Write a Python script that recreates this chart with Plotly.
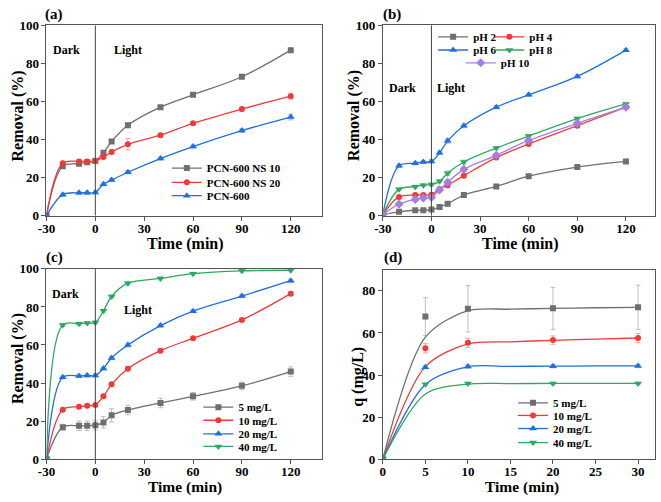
import plotly.graph_objects as go

# ---------------- data ----------------
t_abc = [-30, -20, -10, -5, 0, 5, 10, 20, 40, 60, 90, 120]

a_names = ["PCN-600 NS 10", "PCN-600 NS 20", "PCN-600"]
a_ns10 = [0, 26.0, 27.2, 28.0, 28.7, 33.0, 39.0, 47.5, 57.0, 63.5, 73.0, 87.0]
a_ns10_err = [0, 0.8, 0.8, 0.8, 0.8, 0.8, 0.8, 1.0, 0.8, 0.8, 1.0, 1.0]
a_ns20 = [0, 27.5, 28.5, 28.5, 28.8, 30.8, 33.5, 37.5, 42.3, 48.5, 56.0, 62.8]
a_ns20_err = [0, 1.0, 0.8, 0.8, 0.8, 0.8, 1.0, 3.0, 0.8, 0.8, 1.0, 1.5]
a_pcn = [0, 11.0, 12.0, 12.0, 12.2, 16.5, 18.7, 22.8, 30.0, 36.3, 44.7, 51.8]
a_pcn_err = [0, 0.8, 0.8, 0.8, 0.8, 0.8, 0.8, 0.8, 0.8, 0.8, 1.0, 1.5]

b_names = ["pH 2", "pH 4", "pH 6", "pH 8", "pH 10"]
b_ph2 = [0.5, 2.0, 2.8, 2.8, 3.2, 4.5, 6.2, 10.8, 15.3, 20.7, 25.5, 28.5]
b_ph4 = [0.5, 9.8, 10.8, 10.8, 11.0, 14.0, 16.0, 21.0, 30.5, 37.7, 47.3, 57.0]
b_ph6 = [0.5, 26.2, 27.5, 28.2, 28.5, 33.0, 39.3, 47.2, 57.0, 63.5, 73.2, 87.0]
b_ph8 = [0.5, 13.8, 15.2, 16.0, 16.3, 18.0, 22.3, 28.2, 35.5, 41.8, 51.0, 58.7]
b_ph10 = [0.5, 6.0, 8.5, 9.3, 9.5, 13.5, 17.5, 24.3, 31.7, 39.5, 48.5, 57.0]
b_err = [0.5, 0.8, 0.8, 0.8, 0.8, 0.8, 1.2, 1.0, 0.8, 0.8, 0.8, 0.8]

c_names = ["5 mg/L", "10 mg/L", "20 mg/L", "40 mg/L"]
c_5 = [0, 16.8, 17.5, 17.5, 17.8, 19.3, 23.0, 25.8, 29.5, 33.0, 38.5, 46.0]
c_5_err = [0, 1.5, 2.5, 2.5, 2.5, 3.0, 3.5, 2.5, 2.5, 2.0, 2.0, 2.5]
c_10 = [0, 26.0, 27.5, 28.0, 28.5, 33.0, 39.3, 47.5, 57.0, 63.5, 73.2, 87.0]
c_20 = [0, 43.0, 43.7, 44.0, 44.0, 47.7, 53.2, 60.0, 70.2, 77.8, 85.7, 93.8]
c_40 = [0, 70.5, 71.2, 71.5, 71.8, 78.0, 85.5, 92.5, 95.0, 97.5, 99.0, 99.3]
c_err = [0, 0.8, 0.8, 0.8, 0.8, 0.8, 0.8, 1.0, 0.8, 0.8, 0.8, 0.8]

d_names = ["5 mg/L", "10 mg/L", "20 mg/L", "40 mg/L"]
t_d = [0, 5, 10, 20, 30]
d_5 = [0, 67.8, 71.5, 71.7, 72.2]
d_5_err = [0, 9.0, 11.0, 10.0, 10.5]
d_10 = [0, 52.7, 55.3, 56.6, 57.6]
d_10_err = [0, 2.2, 2.2, 2.0, 2.2]
d_20 = [0, 43.7, 44.0, 44.2, 44.3]
d_20_err = [0, 0.8, 0.8, 0.8, 0.8]
d_40 = [0, 35.6, 36.0, 36.0, 36.0]
d_40_err = [0, 0.5, 0.5, 0.5, 0.5]
# fitted kinetic curves
fit_t = [0, 5, 10, 15, 20, 25, 30]
fit_5 = [0, 58.0, 70.6, 71.3, 71.7, 72.0, 72.2]
fit_10 = [0, 44.0, 54.8, 55.8, 56.5, 57.1, 57.6]
fit_20 = [0, 35.5, 43.9, 44.1, 44.2, 44.3, 44.3]
fit_40 = [0, 31.0, 35.7, 35.9, 36.0, 36.0, 36.0]

tick_abc = [-30, 0, 30, 60, 90, 120]
tick_abc_text = ["-30", "0", "30", "60", "90", "120"]

# ---------------- styles ----------------
W, H = 661, 502
GRAY, RED, BLUE, GREEN, PURPLE = "#6f6f6f", "#f03a3a", "#1f6fe0", "#2fa85f", "#a57fe0"
ERRC = {GRAY: "rgba(150,150,150,0.6)", RED: "rgba(240,58,58,0.45)", BLUE: "rgba(31,111,224,0.45)",
        GREEN: "rgba(47,168,95,0.45)", PURPLE: "rgba(165,127,224,0.45)"}
FONT = "Liberation Serif"

fig = go.Figure()
legend_cfg = {}
leg_count = [0]


def new_legend(text_x, row_y):
    leg_count[0] += 1
    n = leg_count[0]
    key = "legend" if n == 1 else f"legend{n}"
    legend_cfg[key] = dict(x=(text_x - 40) / W, y=1 - row_y / H, xanchor="left", yanchor="middle",
                           bgcolor="rgba(0,0,0,0)", borderwidth=0, itemwidth=30,
                           font=dict(family=FONT, size=11, color="black", weight="bold"))
    return key


def add_series(x, y, err, name, color, symbol, msize, xa, ya, leg):
    fig.add_trace(go.Scatter(
        x=x, y=y, name=name, mode="lines+markers", xaxis=xa, yaxis=ya, legend=leg,
        line=dict(color=color, width=1.3, shape="spline", smoothing=1),
        marker=dict(symbol=symbol, size=msize, color=color),
        error_y=dict(type="data", array=err, color=ERRC[color], thickness=1, width=2.5)))


# (a)
leg_a = [(200, 166), (200, 180.7), (200, 194.5)]
for (y, e, nm, c, s, ms), (lx, ly) in zip(
        [(a_ns10, a_ns10_err, a_names[0], GRAY, "square", 6),
         (a_ns20, a_ns20_err, a_names[1], RED, "circle", 6),
         (a_pcn, a_pcn_err, a_names[2], BLUE, "triangle-up", 7)], leg_a):
    add_series(t_abc, y, e, nm, c, s, ms, "x", "y", new_legend(lx, ly))

# (b)
leg_b = [(470, 30.7), (527, 30.7), (470, 44.3), (527, 44.3), (498, 57.5)]
for (y, nm, c, s, ms), (lx, ly) in zip(
        [(b_ph2, b_names[0], GRAY, "square", 6), (b_ph4, b_names[1], RED, "circle", 6),
         (b_ph6, b_names[2], BLUE, "triangle-up", 7), (b_ph8, b_names[3], GREEN, "triangle-down", 7),
         (b_ph10, b_names[4], PURPLE, "diamond", 7)], leg_b):
    add_series(t_abc, y, b_err, nm, c, s, ms, "x2", "y2", new_legend(lx, ly))

# (c)
leg_c = [(232, 412.5), (232, 426), (232, 440), (232, 453)]
for (y, e, nm, c, s, ms), (lx, ly) in zip(
        [(c_5, c_5_err, c_names[0], GRAY, "square", 6), (c_10, c_err, c_names[1], RED, "circle", 6),
         (c_20, c_err, c_names[2], BLUE, "triangle-up", 7), (c_40, c_err, c_names[3], GREEN, "triangle-down", 7)],
        leg_c):
    add_series(t_abc, y, e, nm, c, s, ms, "x3", "y3", new_legend(lx, ly))

# (d)
leg_d = [(551, 408), (551, 421), (551, 434.5), (551, 449)]
for (y, e, f, nm, c, s, ms), (lx, ly) in zip(
        [(d_5, d_5_err, fit_5, d_names[0], GRAY, "square", 6),
         (d_10, d_10_err, fit_10, d_names[1], RED, "circle", 6),
         (d_20, d_20_err, fit_20, d_names[2], BLUE, "triangle-up", 7),
         (d_40, d_40_err, fit_40, d_names[3], GREEN, "triangle-down", 7)], leg_d):
    fig.add_trace(go.Scatter(x=fit_t, y=f, mode="lines", showlegend=False, xaxis="x4", yaxis="y4",
                             line=dict(color=c, width=1.3, shape="spline", smoothing=0.85)))
    fig.add_trace(go.Scatter(x=t_d, y=y, mode="markers", showlegend=False, xaxis="x4", yaxis="y4",
                             marker=dict(symbol=s, size=ms, color=c),
                             error_y=dict(type="data", array=e, color=ERRC[c], thickness=1, width=2.5)))
    fig.add_trace(go.Scatter(x=[None], y=[None], name=nm, mode="lines+markers", xaxis="x4", yaxis="y4",
                             legend=new_legend(lx, ly),
                             line=dict(color=c, width=1.3), marker=dict(symbol=s, size=ms, color=c)))

# ---------------- axes ----------------
tickfont = dict(family=FONT, size=13, color="black", weight="bold")


def ax(domain, rng, anchor, **kw):
    d = dict(domain=domain, range=rng, anchor=anchor, showgrid=False, zeroline=False,
             showline=True, mirror=True, linecolor="#555555", linewidth=1,
             ticks="outside", ticklen=4, tickcolor="#555555", tickwidth=1, tickfont=tickfont)
    d.update(kw)
    return d


xl = [38 / W, 317 / W]
xr = [379 / W, 655 / W]
yt = [1 - 215 / H, 1 - 19 / H]
yb = [1 - 466 / H, 1 - 270 / H]

fig.update_layout(
    width=W, height=H, margin=dict(l=0, r=0, t=0, b=0),
    paper_bgcolor="white", plot_bgcolor="white",
    xaxis=ax(xl, [-30, 139], "y", tickvals=tick_abc, ticktext=tick_abc_text, ticklabelstandoff=-3),
    yaxis=ax(yt, [0, 100], "x", dtick=20),
    xaxis2=ax(xr, [-30, 138], "y2", tickvals=tick_abc, ticktext=tick_abc_text, ticklabelstandoff=-3),
    yaxis2=ax(yt, [0, 100], "x2", dtick=20),
    xaxis3=ax(xl, [-30, 139], "y3", tickvals=tick_abc, ticktext=tick_abc_text, ticklabelstandoff=-4),
    yaxis3=ax(yb, [0, 100], "x3", dtick=20),
    xaxis4=ax(xr, [0, 32], "y4", dtick=5, ticklabelstandoff=-4),
    yaxis4=ax([1 - 466 / H, 1 - 271 / H], [0, 90], "x4", tickvals=[0, 20, 40, 60, 80]),
    showlegend=True,
)
fig.update_layout(**legend_cfg)

# vertical dark/light separators
for xa, ya in [("x", "y"), ("x2", "y2"), ("x3", "y3")]:
    fig.add_shape(type="line", xref=xa, yref=f"{ya} domain", x0=0, x1=0, y0=0, y1=1,
                  line=dict(color="#444444", width=1))

ann = []


def text(x, y, s, size, angle=0, xref="paper", yref="paper"):
    if xref == "paper":
        x = x / W
        y = 1 - y / H
    ann.append(dict(x=x, y=y, xref=xref, yref=yref, text=s, showarrow=False, textangle=angle,
                    xanchor="center", yanchor="middle",
                    font=dict(family=FONT, size=size, color="black", weight="bold")))


# axis titles
text(9, 112, "Removal (%)", 16, -90)
text(349, 112, "Removal (%)", 16, -90)
text(9, 362, "Removal (%)", 16, -90)
text(353, 381, "q (mg/L)", 16, -90)
text(178.5, 244, "Time (min)", 16)
text(519, 244, "Time (min)", 16)
text(178.5, 495, "Time (min)", 15.5)
text(520, 495, "Time (min)", 15.5)
# panel labels
text(46, 8, "(a)", 15)
text(388, 8, "(b)", 15)
text(46, 258, "(c)", 15)
text(389, 258, "(d)", 15)
# dark / light
text(-17.7, 87.2, "Dark", 12, xref="x", yref="y")
text(19.9, 87.2, "Light", 12, xref="x", yref="y")
text(-18.1, 67.3, "Dark", 12, xref="x2", yref="y2")
text(12.3, 67.3, "Light", 12, xref="x2", yref="y2")
text(-18.3, 86.7, "Dark", 12, xref="x3", yref="y3")
text(26.0, 78.2, "Light", 12, xref="x3", yref="y3")
fig.update_layout(annotations=ann)

fig.write_html("out.html")
